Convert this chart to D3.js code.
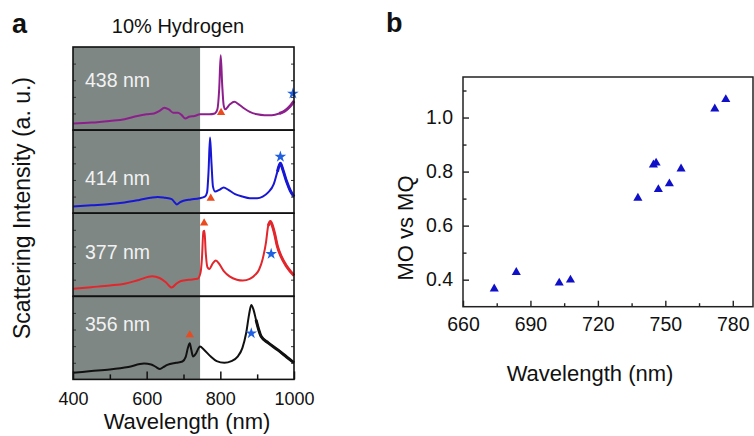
<!DOCTYPE html>
<html><head><meta charset="utf-8">
<script src="https://cdn.jsdelivr.net/npm/d3@7"></script>
<style>body{margin:0;background:#fff;} svg{display:block;font-family:Arial,"Liberation Sans",sans-serif;}</style>
</head><body>
<svg id="c" width="754" height="436"></svg>
<script>
// ---------- DATA ----------
const spectrumLabels = ["438 nm", "414 nm", "377 nm", "356 nm"];
const spec438 = [[400,0.08],[450,0.09],[500,0.11],[540,0.13],[575,0.17],[600,0.19],[620,0.2],[635,0.23],[648,0.27],[660,0.25],[672,0.21],[685,0.21],[695,0.18],[705,0.14],[715,0.16],[730,0.17],[745,0.19],[770,0.19],[785,0.2],[792,0.25],[797,0.5],[801,0.9],[805,0.55],[809,0.3],[813,0.25],[826,0.31],[838,0.34],[850,0.31],[865,0.26],[880,0.22],[900,0.19],[920,0.18],[940,0.18],[960,0.2],[975,0.23],[988,0.28],[1000,0.35]];
const spec414 = [[400,0.08],[450,0.095],[500,0.11],[540,0.13],[580,0.16],[610,0.185],[630,0.196],[650,0.185],[668,0.17],[676,0.13],[682,0.105],[690,0.13],[700,0.15],[720,0.165],[743,0.18],[758,0.2],[764,0.25],[768,0.5],[772,0.91],[776,0.6],[780,0.32],[786,0.26],[797,0.28],[809,0.31],[822,0.28],[840,0.23],[860,0.2],[880,0.18],[900,0.18],[915,0.2],[930,0.25],[945,0.35],[955,0.5],[963,0.6],[970,0.52],[980,0.38],[990,0.27],[1000,0.2]];
const spec377 = [[400,0.09],[450,0.11],[500,0.13],[540,0.15],[580,0.2],[615,0.24],[635,0.22],[652,0.17],[668,0.105],[680,0.15],[693,0.185],[715,0.2],[738,0.21],[746,0.28],[750,0.45],[754,0.78],[757,0.79],[760,0.55],[765,0.35],[770,0.33],[780,0.4],[788,0.43],[797,0.39],[810,0.3],[825,0.24],[845,0.2],[861,0.19],[880,0.21],[895,0.26],[905,0.32],[915,0.45],[924,0.65],[930,0.85],[936,0.9],[942,0.84],[947,0.76],[955,0.6],[965,0.48],[980,0.36],[1000,0.25]];
const spec356 = [[400,0.08],[450,0.1],[500,0.12],[550,0.15],[593,0.19],[612,0.18],[625,0.15],[636,0.124],[646,0.15],[656,0.175],[680,0.2],[697,0.215],[706,0.27],[712,0.38],[717,0.435],[721,0.36],[726,0.275],[732,0.3],[745,0.395],[755,0.36],[774,0.275],[790,0.22],[811,0.2],[830,0.22],[847,0.275],[860,0.38],[870,0.555],[878,0.78],[884,0.895],[890,0.84],[897,0.715],[904,0.6],[911,0.515],[930,0.44],[956,0.355],[980,0.27],[1000,0.2]];
const spectra = [spec438, spec414, spec377, spec356];
const noisyFrom = [958, 950, 925, 895];
const triangleMarks = [[802,0.21],[774,0.18],[756,0.88],[717,0.535]];
const starMarks = [[997,0.44],[963,0.68],[938,0.51],[884,0.555]];
const shadeRange = [400, 745];
const xTicksA = [400, 600, 800, 1000];
const xMinorA = [500, 700, 900];
const titleA = "10% Hydrogen";

const bWavelength = [673.9,683.7,702.8,707.8,737.8,744.7,745.9,746.9,751.8,757,772,776.9];
const bRatio = [0.366,0.427,0.388,0.399,0.702,0.825,0.832,0.734,0.755,0.81,1.032,1.067];
const xTicksB = [660, 690, 720, 750, 780];
const xMinorB = [675, 705, 735, 765];
const yTicksB = [0.4, 0.6, 0.8, 1.0];
const yMinorB = [0.5, 0.7, 0.9, 1.1];

// ---------- STYLE / LAYOUT ----------
const colors = ["#8c1f8c", "#1818d4", "#e2262b", "#111111"];
const labelDy = [40, 55, 46, 35];
const svg = d3.select("#c");
const font = 'Arial,"Liberation Sans",sans-serif';

// ---------- PANEL A ----------
const xA = d3.scaleLinear().domain([400, 1000]).range([73, 294]);
const panelTop = 47, panelH = 83.1;
const ga = svg.append("g");

ga.append("rect")
  .attr("x", xA(shadeRange[0])).attr("y", panelTop)
  .attr("width", xA(shadeRange[1]) - xA(shadeRange[0]))
  .attr("height", panelH * 4).attr("fill", "#7e8784");

const lineGen = (y) => d3.line().x(d => xA(d[0])).y(d => y(d[1])).curve(d3.curveMonotoneX);

spectra.forEach((data, i) => {
  const top = panelTop + i * panelH;
  const y = d3.scaleLinear().domain([0, 1]).range([top + panelH, top]);
  const g = ga.append("g");
  g.append("text").attr("x", 85).attr("y", top + labelDy[i])
    .attr("fill", "#f2f2f2").attr("font-size", 19.5).text(spectrumLabels[i]);
  g.append("path").datum(data).attr("d", lineGen(y))
    .attr("fill", "none").attr("stroke", colors[i]).attr("stroke-width", 2).attr("stroke-linejoin", "round");
  g.append("path").datum(data.filter(d => d[0] >= noisyFrom[i])).attr("d", lineGen(y))
    .attr("fill", "none").attr("stroke", colors[i]).attr("stroke-width", 3);
  const yAxL = d3.axisLeft(y).tickValues([0.2, 0.4, 0.6, 0.8]).tickSizeInner(-3).tickSizeOuter(0).tickFormat("");
  const yAxR = d3.axisRight(y).tickValues([0.2, 0.4, 0.6, 0.8]).tickSizeInner(-3).tickSizeOuter(0).tickFormat("");
  g.append("g").attr("transform", `translate(${xA(400)},0)`).call(yAxL)
    .call(s => s.select(".domain").remove()).selectAll("line").attr("stroke", "#333");
  g.append("g").attr("transform", `translate(${xA(1000)},0)`).call(yAxR)
    .call(s => s.select(".domain").remove()).selectAll("line").attr("stroke", "#333");
  g.append("path").attr("d", d3.symbol(d3.symbolTriangle, 30)())
    .attr("transform", `translate(${xA(triangleMarks[i][0])},${y(triangleMarks[i][1])})`)
    .attr("fill", "#ea4a1e");
  g.append("path").attr("d", d3.symbol(d3.symbolStar, 42)())
    .attr("transform", `translate(${xA(starMarks[i][0])},${y(starMarks[i][1])})`)
    .attr("fill", "#2060e0");
  g.append("rect").attr("x", xA(400)).attr("y", top).attr("width", xA(1000) - xA(400)).attr("height", panelH)
    .attr("fill", "none").attr("stroke", "#111").attr("stroke-width", 1.6);
});

const bottomA = panelTop + 4 * panelH;
const xAxA = d3.axisBottom(xA).tickValues(xTicksA).tickSizeInner(-8).tickSizeOuter(0).tickPadding(13).tickFormat(d3.format("d"));
ga.append("g").attr("transform", `translate(0,${bottomA})`).call(xAxA)
  .call(s => s.select(".domain").remove())
  .call(s => s.selectAll("text").attr("font-size", 18).attr("font-family", font).attr("fill", "#111"))
  .call(s => s.selectAll("line").attr("stroke", "#111").attr("stroke-width", 1.5));
ga.append("g").attr("transform", `translate(0,${bottomA})`)
  .call(d3.axisBottom(xA).tickValues(xMinorA).tickSizeInner(-5).tickSizeOuter(0).tickFormat(""))
  .call(s => s.select(".domain").remove())
  .call(s => s.selectAll("line").attr("stroke", "#111").attr("stroke-width", 1.5));

ga.append("text").attr("x", 187).attr("y", 429).attr("text-anchor", "middle")
  .attr("font-size", 22).attr("fill", "#111").text("Wavelength (nm)");
ga.append("text").attr("transform", "translate(30,208) rotate(-90)").attr("text-anchor", "middle")
  .attr("font-size", 23).attr("fill", "#111").text("Scattering Intensity (a. u.)");
ga.append("text").attr("x", 178).attr("y", 33).attr("text-anchor", "middle")
  .attr("font-size", 20).attr("fill", "#111").text(titleA);
ga.append("text").attr("x", 12).attr("y", 33).attr("font-size", 27).attr("font-weight", "bold")
  .attr("fill", "#111").text("a");

// ---------- PANEL B ----------
const xB = d3.scaleLinear().domain([660, 789]).range([463, 753]);
const yB = d3.scaleLinear().domain([0.3, 1.15]).range([306.7, 77]);
const gb = svg.append("g");
gb.append("rect").attr("x", xB(660)).attr("y", yB(1.15)).attr("width", xB(789) - xB(660)).attr("height", yB(0.3) - yB(1.15))
  .attr("fill", "none").attr("stroke", "#222").attr("stroke-width", 1.5);

const styleAxis = s => {
  s.select(".domain").remove();
  s.selectAll("line").attr("stroke", "#222").attr("stroke-width", 1.4);
  s.selectAll("text").attr("font-size", 19.5).attr("font-family", font).attr("fill", "#111");
};
gb.append("g").attr("transform", `translate(0,${yB(0.3)})`)
  .call(d3.axisBottom(xB).tickValues(xTicksB).tickSizeInner(-6).tickSizeOuter(0).tickPadding(10).tickFormat(d3.format("d")))
  .call(styleAxis);
gb.append("g").attr("transform", `translate(0,${yB(0.3)})`)
  .call(d3.axisBottom(xB).tickValues(xMinorB).tickSizeInner(-3.5).tickSizeOuter(0).tickFormat(""))
  .call(styleAxis);
gb.append("g").attr("transform", `translate(${xB(660)},0)`)
  .call(d3.axisLeft(yB).tickValues(yTicksB).tickSizeInner(-6).tickSizeOuter(0).tickPadding(10).tickFormat(d3.format(".1f")))
  .call(styleAxis);
gb.append("g").attr("transform", `translate(${xB(660)},0)`)
  .call(d3.axisLeft(yB).tickValues(yMinorB).tickSizeInner(-3.5).tickSizeOuter(0).tickFormat(""))
  .call(styleAxis);

gb.selectAll("path.pt").data(bWavelength).enter().append("path").attr("class", "pt")
  .attr("d", d3.symbol(d3.symbolTriangle, 36)())
  .attr("transform", (d, i) => `translate(${xB(d)},${yB(bRatio[i])})`)
  .attr("fill", "#1010c8");

gb.append("text").attr("x", 590).attr("y", 381).attr("text-anchor", "middle")
  .attr("font-size", 22).attr("fill", "#111").text("Wavelength (nm)");
gb.append("text").attr("transform", "translate(413,228) rotate(-90)").attr("text-anchor", "middle")
  .attr("font-size", 22).attr("fill", "#111").text("MO vs MQ");
gb.append("text").attr("x", 386).attr("y", 32).attr("font-size", 27).attr("font-weight", "bold")
  .attr("fill", "#111").text("b");
</script>
</body></html>
